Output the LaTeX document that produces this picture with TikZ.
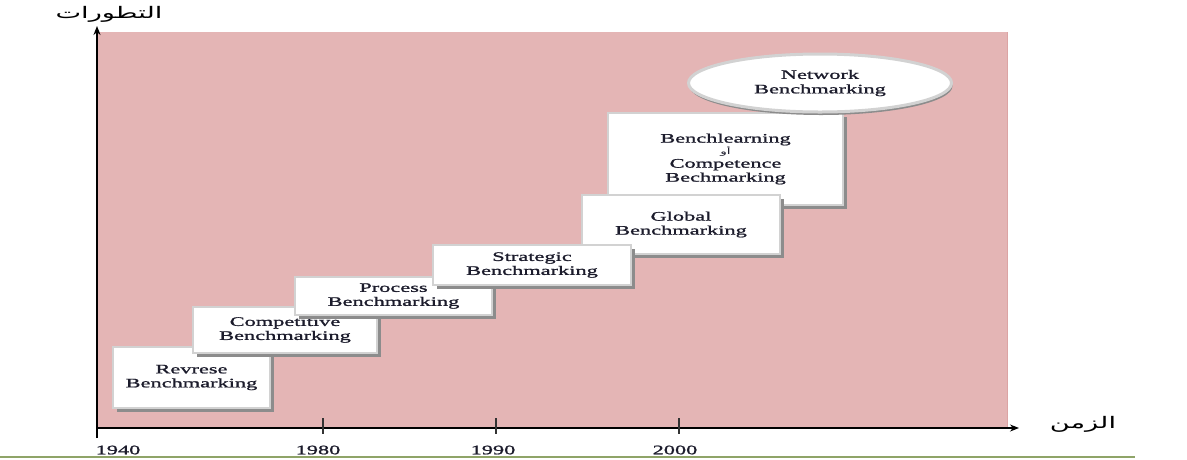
\documentclass[tikz,border=0pt]{standalone}
\usepackage{fontspec}
\setmainfont{Liberation Serif}[FakeStretch=1.72,FakeBold=1.3]
\newfontfamily\arabicfont[Script=Arabic,FakeStretch=1.7]{DejaVu Sans}
\TeXXeTstate=1
\usetikzlibrary{arrows.meta,shadows,shapes.geometric}

\definecolor{bgpink}{HTML}{E4B5B5}
\definecolor{bgrim}{HTML}{DCA4A4}
\definecolor{boxrim}{HTML}{D2D2D2}
\definecolor{boxshade}{HTML}{8C8C8C}
\definecolor{groundline}{HTML}{8FA468}
\definecolor{inktext}{HTML}{1C1C2C}

\tikzset{
  stagebox/.style={rectangle, fill=white, draw=boxrim, line width=2.2pt,
    align=center, inner sep=0pt, text=inktext, font=\fontsize{13}{14}\selectfont,
    drop shadow={shadow xshift=4pt, shadow yshift=-4pt, fill=boxshade, opacity=1}},
  netellipse/.style={ellipse, fill=white, draw=boxrim, line width=3pt,
    align=center, inner sep=0pt, text=inktext, font=\fontsize{13}{14.5}\selectfont,
    drop shadow={shadow xshift=1pt, shadow yshift=-3pt, fill=boxshade, opacity=1}},
  axisline/.style={line width=1.6pt, -{Stealth[length=9pt,width=7pt]}},
  tickmark/.style={line width=1.2pt, black!80},
  yearlbl/.style={font=\fontsize{13}{14}\selectfont, inner sep=0pt, text=inktext},
  arlbl/.style={font=\arabicfont\fontsize{16}{18}\selectfont, inner sep=0pt}
}

\begin{document}
\begin{tikzpicture}[x=1pt,y=-1pt]
\useasboundingbox (0,0) rectangle (1187,459);
\fill[white] (0,0) rectangle (1187,459);

% pink backdrop of the chart area
\fill[bgpink] (97,32) rectangle (1007,428);
\draw[bgrim, line width=0.8pt] (1007,32) -- (1007,428);

% axes
\coordinate (ybot) at (97,438);
\coordinate (ytop) at (97,26);
\coordinate (orig) at (97,428);
\coordinate (xend) at (1019,428);
\draw[axisline] (ybot) -- (ytop);
\draw[axisline, line width=1.2pt] (orig) -- (xend);

% tick marks for the decades
\coordinate (t1980a) at (323,418); \coordinate (t1980b) at (323,434);
\coordinate (t1990a) at (496,418); \coordinate (t1990b) at (496,434);
\coordinate (t2000a) at (679,418); \coordinate (t2000b) at (679,434);
\draw[tickmark] (t1980a) -- (t1980b);
\draw[tickmark] (t1990a) -- (t1990b);
\draw[tickmark] (t2000a) -- (t2000b);

\node[yearlbl] (y1940) at (118,450) {1940};
\node[yearlbl] (y1980) at (318,450) {1980};
\node[yearlbl] (y1990) at (493,450) {1990};
\node[yearlbl] (y2000) at (675,450) {2000};

% axis titles
\node[arlbl] (ylab) at (109,14) {\beginR التطورات\endR};
\node[arlbl] (xlab) at (1083,424) {\beginR الزمن\endR};

% the staircase of benchmarking generations
\node[stagebox, minimum width=157pt, minimum height=61pt] (rev) at (191.5,377.5)
  {Revrese\\Benchmarking};
\node[stagebox, minimum width=184pt, minimum height=46pt] (comp) at (285,330)
  {Competitive\\Benchmarking};
\node[stagebox, minimum width=197pt, minimum height=38pt] (proc) at (393.5,296)
  {Process\\Benchmarking};
\node[stagebox, minimum width=235pt, minimum height=92pt] (learn) at (725.5,159)
  {Benchlearning\\[-2pt]{\arabicfont\fontsize{8}{9}\selectfont\beginR أو\endR}\\[-1pt]Competence\\Bechmarking};
\node[stagebox, minimum width=198pt, minimum height=59pt] (glob) at (681,224.5)
  {Global\\Benchmarking};
\node[stagebox, minimum width=198pt, minimum height=40pt] (strat) at (532,265)
  {Strategic\\Benchmarking};
\node[netellipse, minimum width=263pt, minimum height=58pt] (net) at (820,83)
  {Network\\Benchmarking};

% thin rule along the foot of the page
\draw[groundline, line width=2pt] (0,456.5) -- (1135,456.5);
\end{tikzpicture}
\end{document}
